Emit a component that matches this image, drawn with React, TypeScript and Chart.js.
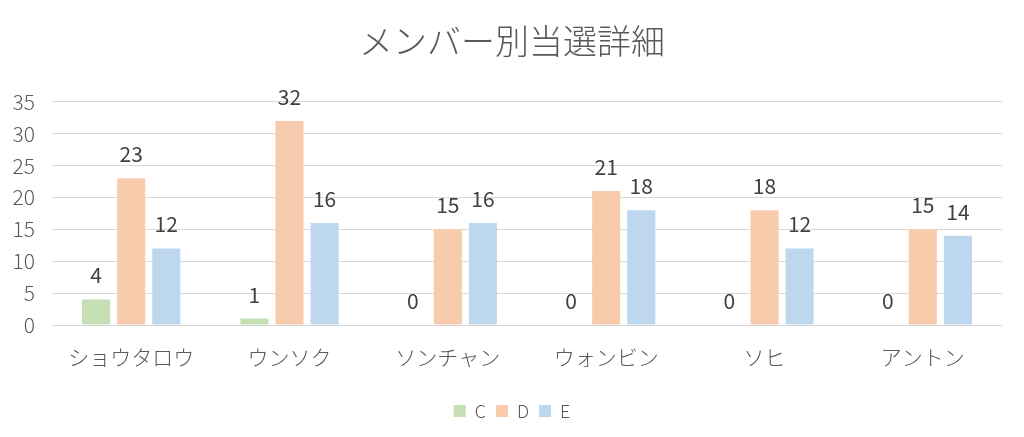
import React, { useEffect, useRef } from 'react';
import Chart from 'chart.js/auto';
import type { ChartConfiguration, Plugin } from 'chart.js/auto';

const members = ['ショウタロウ', 'ウンソク', 'ソンチャン', 'ウォンビン', 'ソヒ', 'アントン'];
const seriesC = [4, 1, 0, 0, 0, 0];
const seriesD = [23, 32, 15, 21, 18, 15];
const seriesE = [12, 16, 16, 18, 12, 14];

const FONT = '"Noto Sans CJK JP", "Noto Sans", sans-serif';
const GRAY = '#595959';

const valueLabels: Plugin<'bar'> = {
  id: 'valueLabels',
  afterDatasetsDraw(chart) {
    const ctx = chart.ctx;
    ctx.save();
    ctx.font = `21px ${FONT}`;
    ctx.fillStyle = '#404040';
    ctx.textAlign = 'center';
    ctx.textBaseline = 'middle';
    chart.data.datasets.forEach((ds, i) => {
      const meta = chart.getDatasetMeta(i);
      meta.data.forEach((bar, j) => {
        const v = ds.data[j] as number;
        ctx.fillText(String(v), bar.x, bar.y - 24);
      });
    });
    ctx.restore();
  },
};

const App: React.FC = () => {
  const canvasRef = useRef<HTMLCanvasElement>(null);

  useEffect(() => {
    document.body.style.margin = '0';
    if (!canvasRef.current) return;
    const config: ChartConfiguration<'bar'> = {
      type: 'bar',
      data: {
        labels: members,
        datasets: [
          { label: 'C', data: seriesC, backgroundColor: '#c5e0b4' },
          { label: 'D', data: seriesD, backgroundColor: '#f8cbad' },
          { label: 'E', data: seriesE, backgroundColor: '#bdd7ee' },
        ],
      },
      options: {
        animation: false,
        responsive: false,
        layout: { padding: { left: 0, right: 0, top: 0, bottom: 7 } },
        datasets: { bar: { categoryPercentage: 0.665, barPercentage: 0.8 } },
        plugins: {
          title: {
            display: true,
            text: 'メンバー別当選詳細',
            color: GRAY,
            font: { family: FONT, size: 34, weight: 300 },
            padding: { top: 21, bottom: 40 },
          },
          legend: {
            position: 'bottom',
            labels: {
              boxWidth: 12,
              boxHeight: 12,
              color: GRAY,
              font: { family: FONT, size: 18, weight: 300 },
              padding: 10,
            },
          },
          tooltip: { enabled: false },
        },
        scales: {
          x: {
            grid: { display: false },
            border: { display: false },
            ticks: { color: GRAY, font: { family: FONT, size: 21, weight: 300 }, padding: 11 },
            afterFit: (s) => {
              s.height = 67;
            },
          },
          y: {
            min: 0,
            max: 35,
            grid: { color: '#d9d9d9', drawTicks: false },
            border: { display: false },
            ticks: { stepSize: 5, color: GRAY, font: { family: FONT, size: 21, weight: 300 }, padding: 17 },
            afterFit: (s) => {
              s.width = 52;
            },
          },
          // empty right-hand axis, only to leave the right margin
          y2: {
            position: 'right',
            min: 0,
            max: 35,
            grid: { display: false },
            border: { display: false },
            ticks: { display: false },
            afterFit: (s) => {
              s.width = 22;
            },
          },
        },
      },
      plugins: [valueLabels],
    };
    const chart = new Chart(canvasRef.current, config);
    return () => chart.destroy();
  }, []);

  return (
    <div style={{ width: 1024, height: 437, background: '#fff' }}>
      <canvas ref={canvasRef} width={1024} height={437} />
    </div>
  );
};

export default App;
